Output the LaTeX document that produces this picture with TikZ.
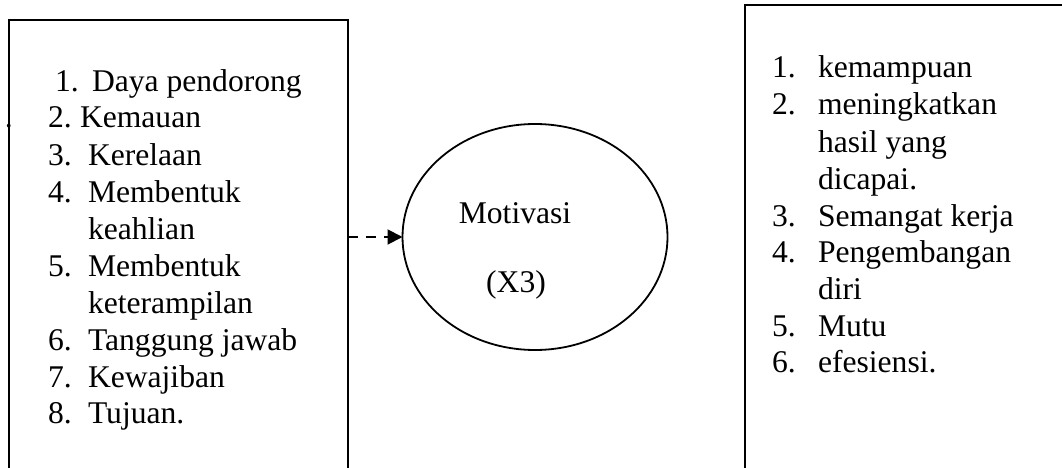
\documentclass[tikz,border=0pt]{standalone}
\usepackage{fontspec}
\setmainfont{Liberation Serif}
\usetikzlibrary{shapes.geometric,arrows.meta}
\begin{document}
\begin{tikzpicture}[x=1pt,y=-1pt,
  txt/.style={inner sep=0pt, outer sep=0pt, anchor=base west, font=\fontsize{31.6}{36.8}\selectfont},
  boxx/.style={draw, line width=1.8pt, rectangle, inner sep=0pt, outer sep=0pt, anchor=north west},
  conn/.style={line width=1.9pt, dash pattern=on 10pt off 8pt, -{Triangle[length=15pt,width=15pt]}}]
\useasboundingbox (0,0) rectangle (1062,468);
% boxes (open at the bottom / right: cut by the page)
\node[boxx, minimum width=339pt, minimum height=500pt] (L) at (9,20) {};
\node[boxx, minimum width=360pt, minimum height=500pt] (R) at (745,5) {};
\node[draw, line width=1.8pt, ellipse, inner sep=0pt, outer sep=0pt, minimum width=265pt, minimum height=226pt] (M) at (535,237) {};
% left list
\node[txt] (dot) at (5,128) {.};
\node[txt] (a1n) at (55,92) {1.};  \node[txt] (a1) at (92,92) {Daya pendorong};
\node[txt] (a2n) at (48,128) {2.}; \node[txt] (a2) at (80,128) {Kemauan};
\node[txt] (a3n) at (48,165) {3.}; \node[txt] (a3) at (88,165) {Kerelaan};
\node[txt] (a4n) at (48,202) {4.}; \node[txt] (a4) at (88,202) {Membentuk};
\node[txt] (a4b) at (88,239) {keahlian};
\node[txt] (a5n) at (48,276) {5.}; \node[txt] (a5) at (88,276) {Membentuk};
\node[txt] (a5b) at (88,313) {keterampilan};
\node[txt] (a6n) at (48,350) {6.}; \node[txt] (a6) at (88,350) {Tanggung jawab};
\node[txt] (a7n) at (48,387) {7.}; \node[txt] (a7) at (88,387) {Kewajiban};
\node[txt] (a8n) at (48,423) {8.}; \node[txt] (a8) at (88,423) {Tujuan.};
% ellipse text
\node[txt, anchor=base] (mt) at (515,223) {Motivasi};
\node[txt, anchor=base] (mx) at (516,292) {(X3)};
% right list
\node[txt] (b1n) at (772,78) {1.};  \node[txt] (b1) at (818,78) {kemampuan};
\node[txt] (b2n) at (772,115) {2.}; \node[txt] (b2) at (818,115) {meningkatkan};
\node[txt] (b2b) at (818,152) {hasil yang};
\node[txt] (b2c) at (818,189) {dicapai.};
\node[txt] (b3n) at (772,226) {3.}; \node[txt] (b3) at (818,226) {Semangat kerja};
\node[txt] (b4n) at (772,262) {4.}; \node[txt] (b4) at (818,262) {Pengembangan};
\node[txt] (b4b) at (818,299) {diri};
\node[txt] (b5n) at (772,336) {5.}; \node[txt] (b5) at (818,336) {Mutu};
\node[txt] (b6n) at (772,372) {6.}; \node[txt] (b6) at (818,372) {efesiensi.};
% connector
\draw[conn] (L.east |- M.west) -- (M.west);
\end{tikzpicture}
\end{document}
